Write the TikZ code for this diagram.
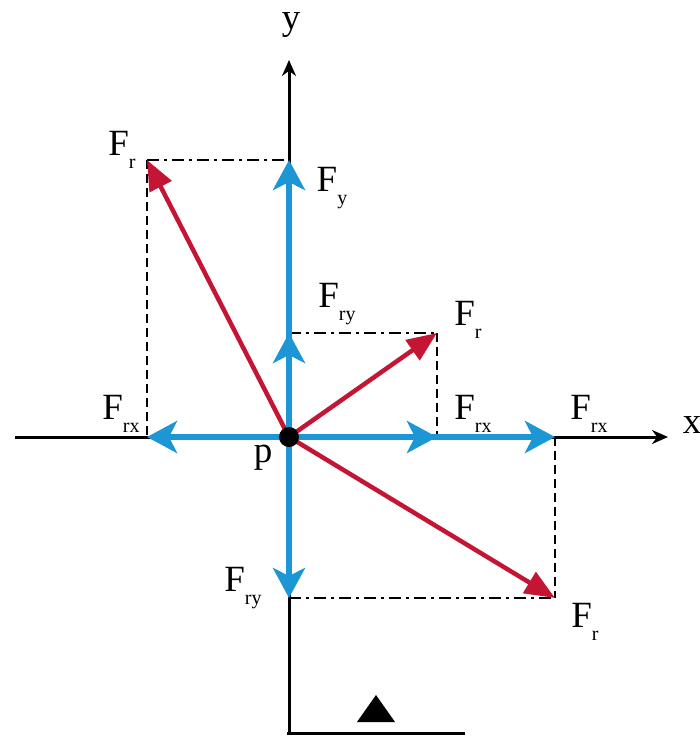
\documentclass[tikz,border=0pt]{standalone}
\usepackage{fontspec}
\setmainfont{Liberation Serif}
\usetikzlibrary{arrows.meta}
\definecolor{vblue}{RGB}{28,150,212}
\definecolor{vred}{RGB}{196,22,52}
\newcommand{\Fsub}[1]{F\raisebox{-0.34em}{\fontsize{20}{20}\selectfont #1}}
\tikzset{
  lbl/.style={font=\fontsize{37}{39}\selectfont, inner sep=0pt},
  axis/.style={line width=3pt, -{Stealth[length=16pt,width=14pt]}},
  bvec/.style={vblue, line width=6pt, -{Stealth[length=30pt,width=32pt,inset=8pt]}},
  rvec/.style={vred, line width=4.5pt, -{Triangle[length=30pt,width=24pt]}},
  dashdot/.style={line width=2.5pt, dash pattern=on 12pt off 5pt on 3pt off 5pt},
  dashv/.style={line width=2.5pt, dash pattern=on 9pt off 5pt}
}
\begin{document}
\begin{tikzpicture}[x=1pt,y=-1pt]
\useasboundingbox (0,0) rectangle (700,737);
% key points
\coordinate (P) at (289,437);
\coordinate (A) at (147,160);   % top-left resultant tip
\coordinate (Ay) at (289,160);
\coordinate (Ax) at (147,437);
\coordinate (B) at (437,333);   % middle resultant tip
\coordinate (By) at (289,333);
\coordinate (Bx) at (437,437);
\coordinate (C) at (555,598);   % lower right resultant tip
\coordinate (Cy) at (289,598);
\coordinate (Cx) at (555,437);
\coordinate (xl) at (15,437);
\coordinate (xr) at (668,437);
\coordinate (yt) at (289,60);
\coordinate (yb) at (289,733);
\coordinate (gl) at (287,733);
\coordinate (gr) at (465,733);
% dashed construction lines
\draw[dashdot] (A) -- (Ay);
\draw[dashv] (A) -- (Ax);
\draw[dashdot] (By) -- (B);
\draw[dashv] (B) -- (Bx);
\draw[dashdot] (Cy) -- (C);
\draw[dashv] (Cx) -- (C);
% axes
\draw[axis] (xl) -- (xr);
\draw[axis] (P) -- (yt);
\draw[line width=3pt] (P) -- (yb);
\draw[line width=3pt] (gl) -- (gr);
\fill (357,722) -- (376,695) -- (395,722) -- cycle;
% red resultants
\draw[rvec] (P) -- (A);
\draw[rvec] (P) -- (B);
\draw[rvec] (P) -- (C);
% blue components
\draw[bvec] (P) -- (Ay);
\draw[bvec] (P) -- (By);
\draw[bvec] (P) -- (Ax);
\draw[bvec] (P) -- (Cx);
\draw[bvec] (P) -- (Bx);
\draw[bvec] (P) -- (Cy);
% point P
\fill (P) circle (10pt);
% labels
\node[lbl] (ly) at (291,25) {y};
\node[lbl] (lx) at (692,425) {x};
\node[lbl] (lp) at (263,458) {p};
\node[lbl] (l1) at (122,150) {\Fsub{r}};
\node[lbl] (l2) at (332,188) {\Fsub{y}};
\node[lbl] (l3) at (337,304) {\Fsub{ry}};
\node[lbl] (l4) at (468,320) {\Fsub{r}};
\node[lbl] (l5) at (121,414) {\Fsub{rx}};
\node[lbl] (l6) at (473,414) {\Fsub{rx}};
\node[lbl] (l7) at (589,414) {\Fsub{rx}};
\node[lbl] (l8) at (243,588) {\Fsub{ry}};
\node[lbl] (l9) at (585,622) {\Fsub{r}};
\end{tikzpicture}
\end{document}
